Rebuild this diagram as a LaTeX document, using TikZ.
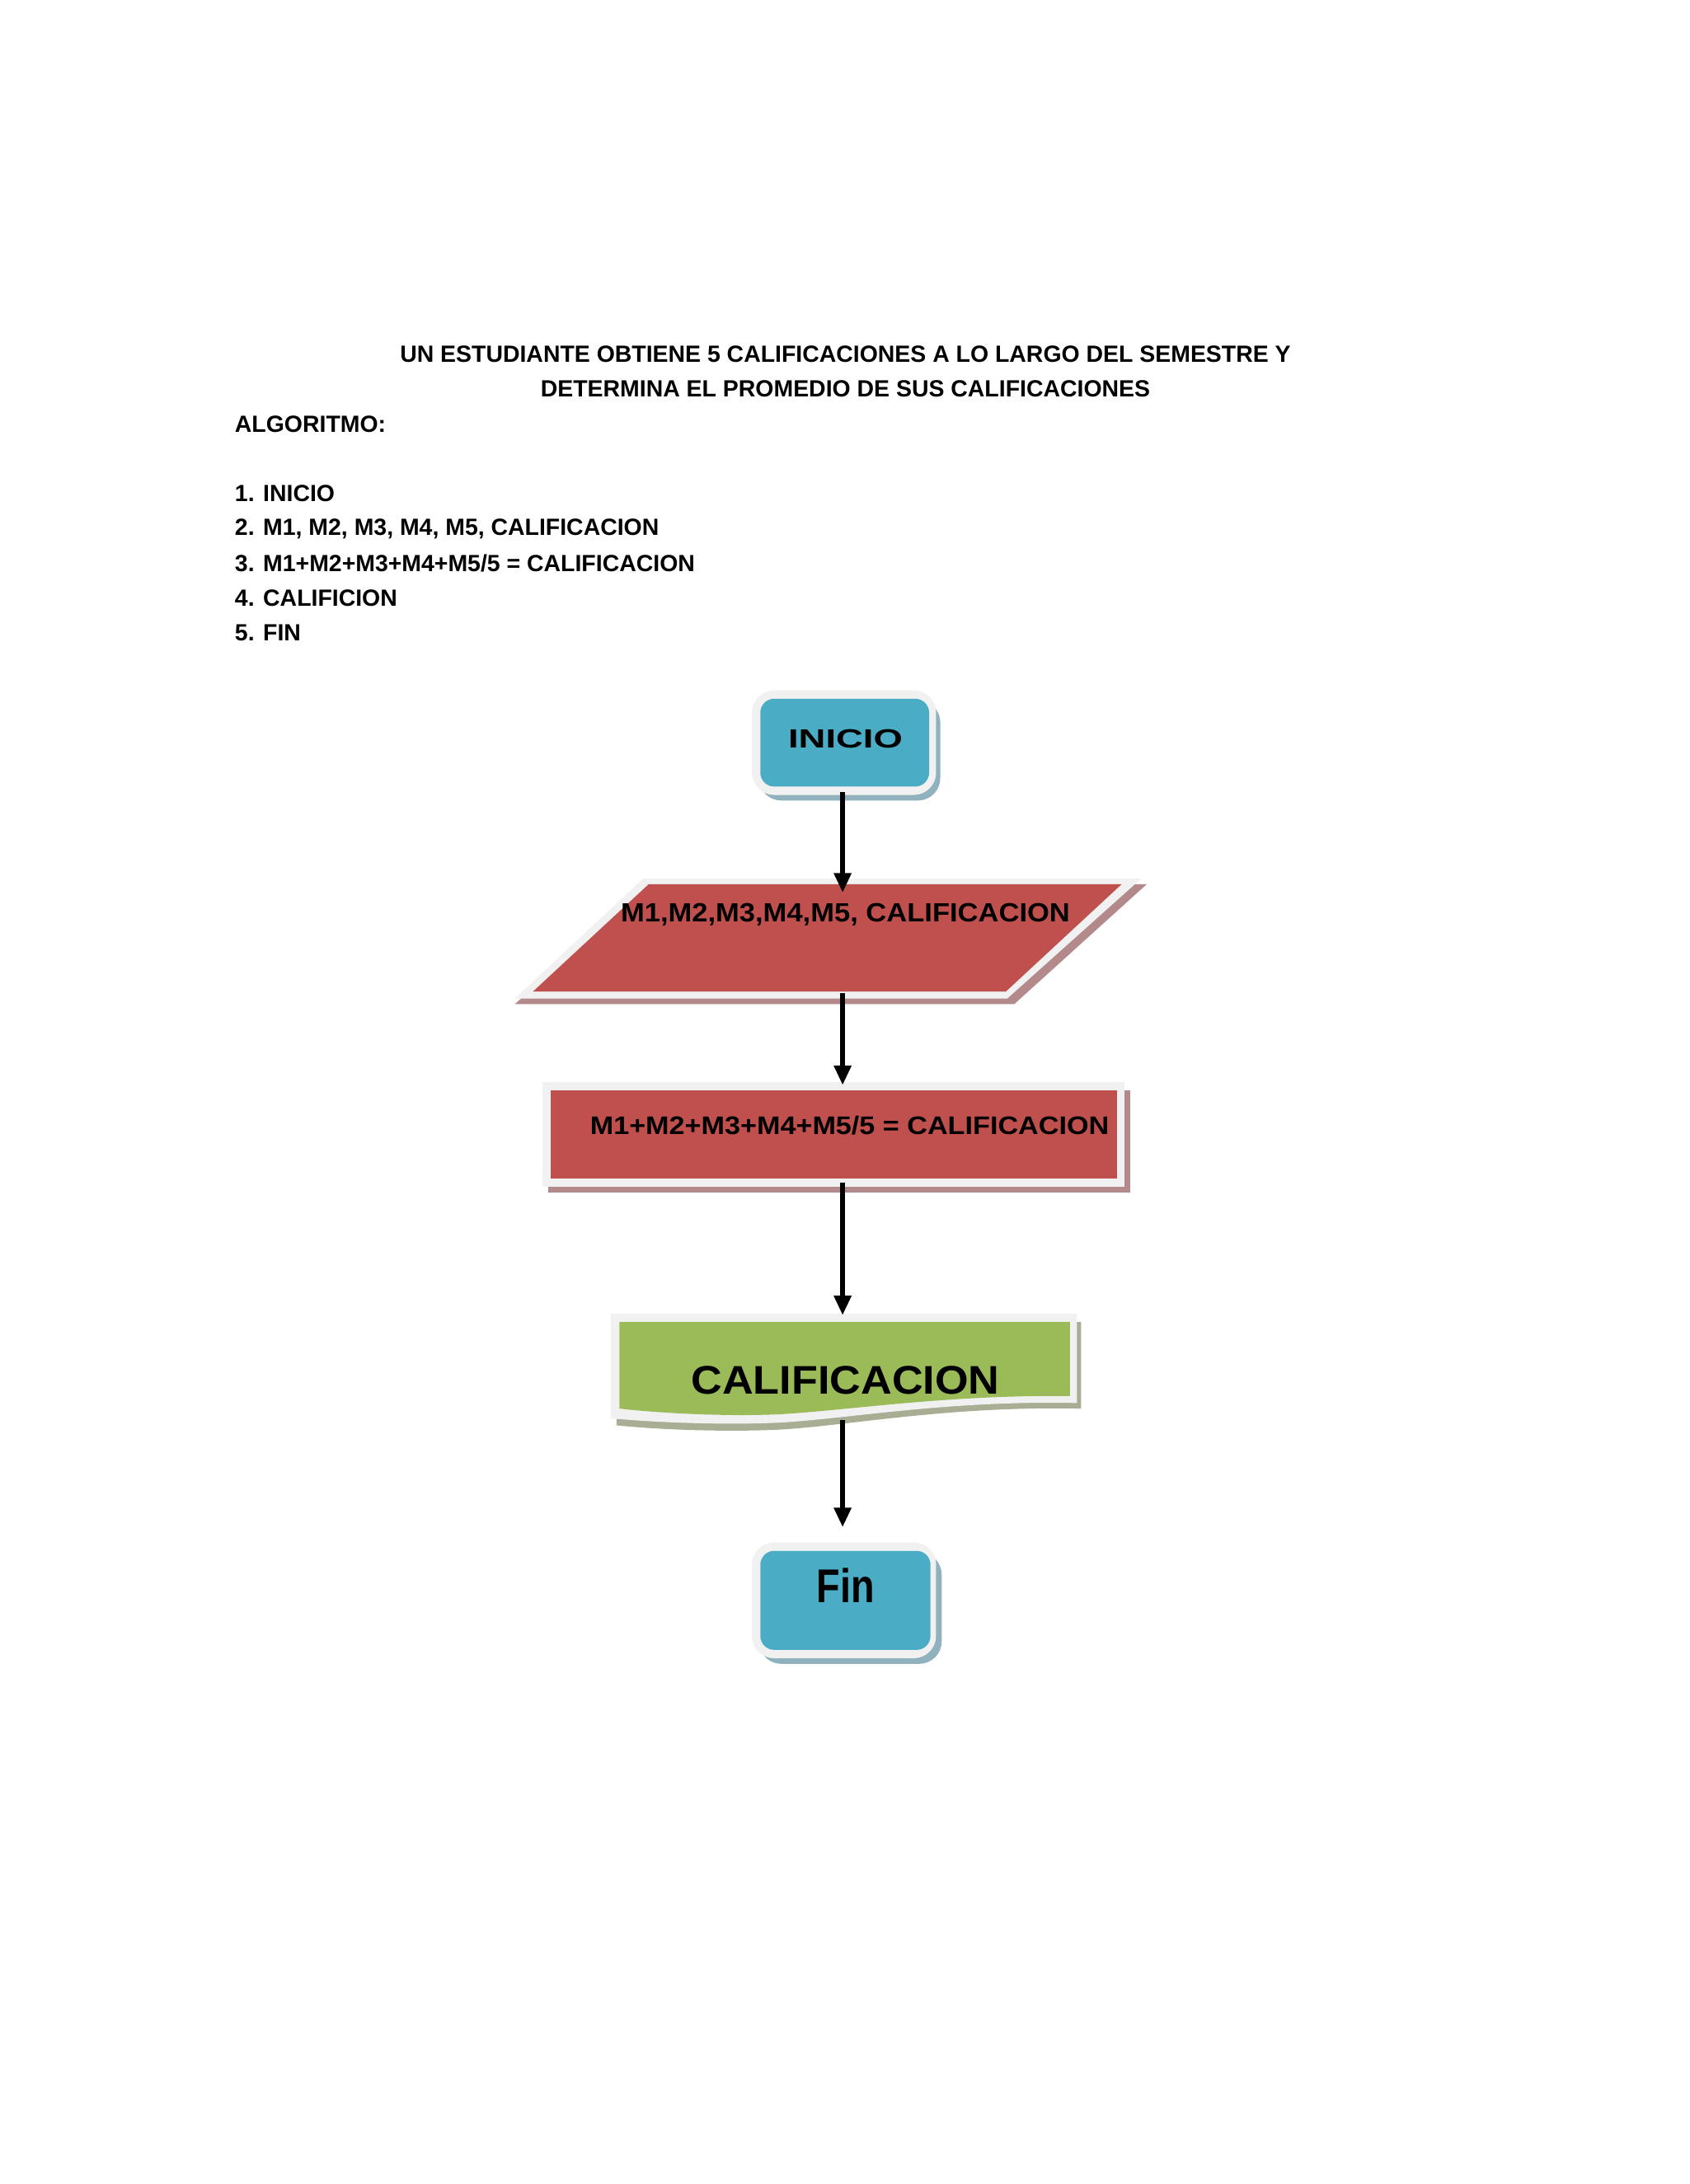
\documentclass[tikz,border=0pt]{standalone}
\usepackage{fontspec}
\setmainfont{Liberation Sans}
\usetikzlibrary{arrows.meta}
\definecolor{blu}{HTML}{4BACC6}
\definecolor{blush}{HTML}{8FB2BE}
\definecolor{redf}{HTML}{C0504D}
\definecolor{redsh}{HTML}{B3898B}
\definecolor{grn}{HTML}{9BBB59}
\definecolor{grnsh}{HTML}{A8AE94}
\definecolor{rim}{HTML}{F1F1F1}
\tikzset{
  conn/.style={line width=1.6pt,-{Triangle[length=7pt,width=6pt]}},
  ttl/.style={font=\fontsize{8.4}{10}\selectfont\bfseries,inner sep=0pt},
  lbl/.style={inner sep=0pt}
}
\begin{document}
\begin{tikzpicture}[x=0.5pt,y=-0.5pt]
\useasboundingbox[fill=white] (0,0) rectangle (1211,1566);
% title and list
\node[ttl] (t1) at (606,254) {UN ESTUDIANTE OBTIENE 5 CALIFICACIONES A LO LARGO DEL SEMESTRE Y};
\node[ttl] (t2) at (606,279) {DETERMINA EL PROMEDIO DE SUS CALIFICACIONES};
\node[ttl,anchor=west] (a0) at (168,304) {ALGORITMO:};
\node[ttl,anchor=west] (a1) at (168,354) {1. INICIO};
\node[ttl,anchor=west] (a2) at (168,379) {2. M1, M2, M3, M4, M5, CALIFICACION};
\node[ttl,anchor=west] (a3) at (168,404) {3. M1+M2+M3+M4+M5/5 = CALIFICACION};
\node[ttl,anchor=west] (a4) at (168,429) {4. CALIFICION};
\node[ttl,anchor=west] (a5) at (168,454) {5. FIN};
% INICIO
\fill[blush,rounded corners=8pt] (544,502) rectangle (674,574);
\fill[rim,rounded corners=8pt] (539,495) rectangle (671,570);
\fill[blu,rounded corners=5pt] (545,501) rectangle (666,564);
\node[lbl] (ini) at (606,530) {\resizebox{41pt}{6.6pt}{\bfseries INICIO}};
\coordinate (iniB) at (604,568);
% parallelogram
\fill[redsh] (468,634) -- (822,634) -- (727,720) -- (369,720) -- cycle;
\fill[rim] (461,630) -- (818,630) -- (722,716) -- (369,716) -- cycle;
\fill[redf] (465,634) -- (804,634) -- (721,711) -- (382,711) -- cycle;
\node[lbl] (par) at (606,656) {\resizebox{161pt}{6.6pt}{\bfseries M1,M2,M3,M4,M5, CALIFICACION}};
\coordinate (parT) at (604,640);
\coordinate (parB) at (604,712);
% rectangle
\fill[redsh] (393,782) rectangle (810,855);
\fill[rim] (389,776) rectangle (806,851);
\fill[redf] (395,782) rectangle (801,845);
\node[lbl] (calc) at (609,807) {\resizebox{186pt}{6.6pt}{\bfseries M1+M2+M3+M4+M5/5 = CALIFICACION}};
\coordinate (calcT) at (604,778);
\coordinate (calcB) at (604,848);
% document
\fill[grnsh] (442,948) -- (775,948) -- (775,1010) .. controls (680,1008) and (610,1022) .. (560,1025) .. controls (520,1027) and (470,1025) .. (442,1022) -- cycle;
\fill[rim] (438,942) -- (772,942) -- (772,1006) .. controls (680,1004) and (610,1017) .. (560,1020) .. controls (520,1022) and (470,1020) .. (438,1017) -- cycle;
\fill[grn] (444,948) -- (767,948) -- (767,1001) .. controls (680,1000) and (610,1011) .. (560,1014) .. controls (520,1016) and (470,1013) .. (444,1010) -- cycle;
\node[lbl] (out) at (606,990) {\resizebox{110.5pt}{10pt}{\bfseries CALIFICACION}};
\coordinate (outT) at (604,943);
\coordinate (outB) at (604,1018);
% Fin
\fill[blush,rounded corners=8pt] (544,1113) rectangle (675,1193);
\fill[rim,rounded corners=8pt] (539,1106) rectangle (671,1189);
\fill[blu,rounded corners=5pt] (545,1112) rectangle (667,1183);
\node[lbl] (fin) at (606,1137) {\resizebox{20.7pt}{12.3pt}{\bfseries Fin}};
\coordinate (finT) at (604,1095);
% connectors
\draw[conn] (iniB) -- (parT);
\draw[conn] (parB) -- (calcT);
\draw[conn] (calcB) -- (outT);
\draw[conn] (outB) -- (finT);
\end{tikzpicture}
\end{document}
